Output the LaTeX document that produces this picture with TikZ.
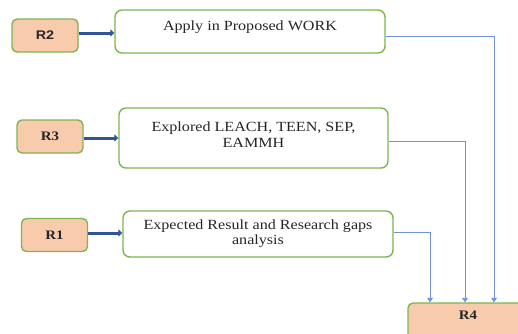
\documentclass[tikz,border=0pt]{standalone}
\usepackage{fontspec}
\setmainfont{Liberation Serif}[FakeStretch=1.15]
\setsansfont{Liberation Sans}[FakeStretch=1.15]
\usetikzlibrary{arrows.meta}
\definecolor{boxgreen}{HTML}{7CB552}
\definecolor{peach}{HTML}{F8CBAD}
\definecolor{navy}{HTML}{2F5597}
\definecolor{linkblue}{HTML}{6F93D8}
\definecolor{ink}{HTML}{262626}
\begin{document}
\begin{tikzpicture}[x=1pt,y=-1pt,
  rbox/.style={draw=boxgreen, line width=1.4pt, fill=peach, rounded corners=5pt,
    minimum width=66pt, minimum height=33pt, inner sep=0pt, text=ink,
    font=\fontsize{13}{15}\selectfont\bfseries},
  tbox/.style={draw=boxgreen, line width=1.4pt, fill=white, rounded corners=7pt,
    inner sep=0pt},
  txt/.style={align=center, inner sep=0pt, text=ink, font=\fontsize{14}{15.5}\selectfont},
  feed/.style={navy, line width=3pt, -{Triangle[width=7pt,length=4pt]}},
  link/.style={linkblue, line width=0.9pt, -{Triangle[width=6pt,length=4.5pt]}}]
\useasboundingbox (0,0) rectangle (518,333);
\clip (0,0) rectangle (518,333);

% left-hand result labels
\node[rbox, font=\fontsize{12.5}{14}\selectfont\sffamily\bfseries] (R2) at (45,35.5) {R2};
\node[rbox] (R3) at (50,136.5) {R3};
\node[rbox] (R1) at (54.5,235) {R1};

% description boxes
\node[tbox, minimum width=270pt, minimum height=43pt] (Apply) at (250,31.5) {};
\node[txt] (ApplyText) at ([yshift=4.5pt]Apply.center) {Apply in Proposed WORK};

\node[tbox, minimum width=269pt, minimum height=60pt] (Explored) at (253.5,138) {};
\node[txt] (ExploredText) at ([yshift=3.5pt]Explored.center) {Explored LEACH, TEEN, SEP,\\EAMMH};

\node[tbox, minimum width=270pt, minimum height=46pt] (Expected) at (258,234) {};
\node[txt] (ExpectedText) at ([yshift=0.5pt]Expected.center) {Expected Result and Research gaps\\analysis};

% target box, running past the lower right edge
\node[rbox, minimum width=120pt, minimum height=38pt] (R4) at (468,322) {};
\node[font=\fontsize{13}{15}\selectfont\bfseries, text=ink, inner sep=0pt] (R4Text) at (468,315.5) {R4};

% thick feed arrows
\draw[feed] ([yshift=2.5pt]R2.east) -- ([yshift=2.5pt]R2.east -| Apply.west);
\draw[feed] ([yshift=-1.5pt]R3.east) -- ([yshift=-1.5pt]R3.east -| Explored.west);
\draw[feed] ([yshift=2pt]R1.east) -- ([yshift=2pt]R1.east -| Expected.west);

% thin links into R4
\draw[link] ([yshift=-4.5pt]Apply.east) -| ([xshift=26pt]R4.north);
\draw[link] ([yshift=-3pt]Explored.east) -| ([xshift=-3pt]R4.north);
\draw[link] ([yshift=2pt]Expected.east) -| ([xshift=-38pt]R4.north);
\end{tikzpicture}
\end{document}
